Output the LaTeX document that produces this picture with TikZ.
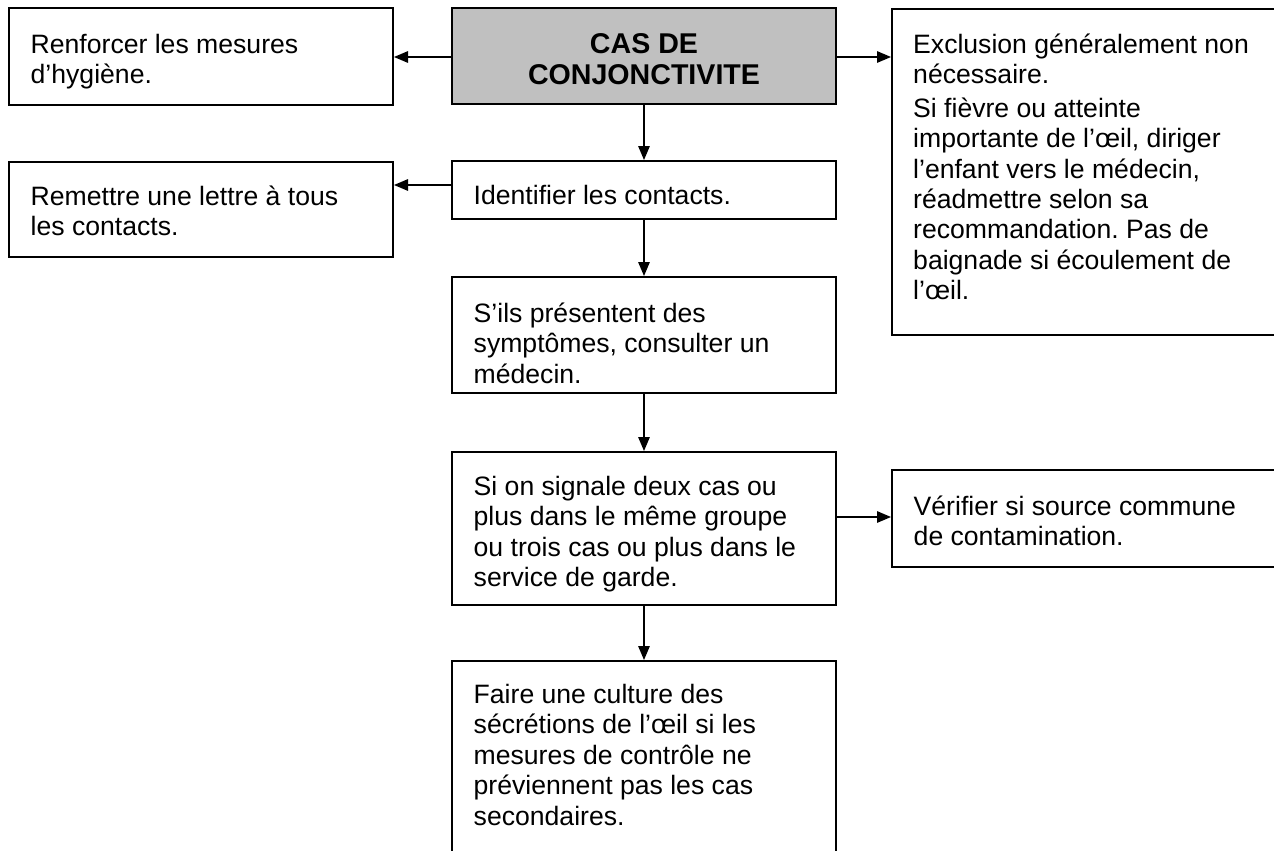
\documentclass[tikz,border=0pt]{standalone}
\usepackage{fontspec}
\setmainfont{Liberation Sans}
\usetikzlibrary{arrows.meta}
\definecolor{boxgray}{HTML}{C0C0C0}
\frenchspacing
\tikzset{
  box/.style={draw=black, line width=2pt, inner sep=0pt, rectangle},
  txt/.style={inner sep=0pt, anchor=base west, font=\fontsize{26.6}{30.5}\selectfont},
  link/.style={line width=1.4pt, -{Triangle[length=14pt,width=11.5pt]}}
}
\begin{document}
\begin{tikzpicture}[x=1pt,y=-1pt]
\useasboundingbox (0,0) rectangle (1274,851);
% boxes
\node[box, minimum width=384.5pt, minimum height=97pt] (renf) at (200.75,56.5) {};
\node[box, fill=boxgray, minimum width=384pt, minimum height=96pt] (cas) at (644,56) {};
\node[box, minimum width=398pt, minimum height=326pt] (excl) at (1091,172) {};
\node[box, minimum width=384.5pt, minimum height=95pt] (remet) at (200.75,209.5) {};
\node[box, minimum width=384pt, minimum height=58pt] (ident) at (644,190) {};
\node[box, minimum width=384pt, minimum height=116pt] (sils) at (644,335) {};
\node[box, minimum width=384pt, minimum height=153pt] (sion) at (644,528.5) {};
\node[box, minimum width=398pt, minimum height=97pt] (verif) at (1091,518.5) {};
\node[box, minimum width=384pt, minimum height=219pt] (faire) at (644,770.5) {};
% texts
\node[txt] (trenf) at (30.5,53.5) {\begin{tabular}[t]{@{}l@{}}Renforcer les mesures\\ d’hygiène.\end{tabular}};
\node[txt, anchor=base, font=\fontsize{28.6}{32}\selectfont\bfseries] (tcas) at (644,53) {\begin{tabular}[t]{@{}c@{}}CAS DE\\ CONJONCTIVITE\end{tabular}};
\node[txt] (texcl) at (913,53) {\begin{tabular}[t]{@{}l@{}}Exclusion généralement non\\ nécessaire.\\[3pt] Si fièvre ou atteinte\\ importante de l’œil, diriger\\ l’enfant vers le médecin,\\ réadmettre selon sa\\ recommandation. Pas de\\ baignade si écoulement de\\ l’œil.\end{tabular}};
\node[txt] (tremet) at (30.5,205) {\begin{tabular}[t]{@{}l@{}}Remettre une lettre à tous\\ les contacts.\end{tabular}};
\node[txt] (tident) at (473.5,204) {Identifier les contacts.};
\node[txt] (tsils) at (473.5,322) {\begin{tabular}[t]{@{}l@{}}S’ils présentent des\\ symptômes, consulter un\\ médecin.\end{tabular}};
\node[txt] (tsion) at (473.5,495) {\begin{tabular}[t]{@{}l@{}}Si on signale deux cas ou\\ plus dans le même groupe\\ ou trois cas ou plus dans le\\ service de garde.\end{tabular}};
\node[txt] (tverif) at (913.5,515) {\begin{tabular}[t]{@{}l@{}}Vérifier si source commune\\ de contamination.\end{tabular}};
\node[txt] (tfaire) at (473.5,703) {\begin{tabular}[t]{@{}l@{}}Faire une culture des\\ sécrétions de l’œil si les\\ mesures de contrôle ne\\ préviennent pas les cas\\ secondaires.\end{tabular}};
% connectors
\draw[link] ([yshift=-1pt]cas.west) -- ([yshift=-1pt]cas.west -| renf.east);
\draw[link] ([yshift=-1pt]cas.east) -- ([yshift=-1pt]cas.east -| excl.west);
\draw[link] (cas.south) -- (ident.north);
\draw[link] ([yshift=5pt]ident.west) -- ([yshift=5pt]ident.west -| remet.east);
\draw[link] (ident.south) -- (sils.north);
\draw[link] (sils.south) -- (sion.north);
\draw[link] ([yshift=11.5pt]sion.east) -- ([yshift=11.5pt]sion.east -| verif.west);
\draw[link] (sion.south) -- (faire.north);
\end{tikzpicture}
\end{document}
